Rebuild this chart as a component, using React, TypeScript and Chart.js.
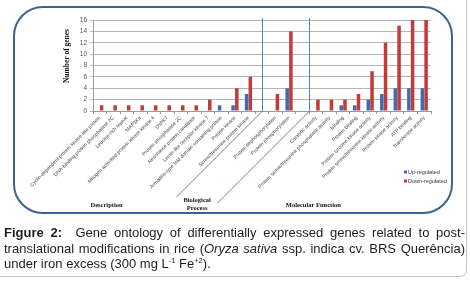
import React, { useEffect, useRef } from 'react';
import { Chart, registerables } from 'chart.js';

Chart.register(...registerables);

const categories: string[] = [
  'Cyclin-dependent protein kinase-like protein',
  'DNA-binding protein phosphatase 2C',
  'Leucine-rich repeat',
  'MAP3Ka',
  'Mitogen-activated protein kinase kinase 4',
  'OsPK7',
  'Protein phosphatase 2C',
  'Resistance protein candidate',
  'Lectin-like receptor kinase 7',
  'Armadillo-type fold domain containing protein',
  'Protein kinase',
  'Serine/threonine protein kinase',
  '',
  'Protein dephosphorylation',
  'Protein phosphorylation',
  '',
  'Catalytic activity',
  'Protein serine/threonine phosphatase activity',
  'Binding',
  'Protein binding',
  'Protein tyrosine kinase activity',
  'Protein serine/threonine kinase activity',
  'Protein kinase activity',
  'ATP binding',
  'Transferase activity',
];

const upRegulated: (number | null)[] = [
  null, null, null, null, null, null, null, null, null, 1, 1, 3,
  null, null, 4,
  null, null, null, 1, 1, 2, 3, 4, 4, 4,
];

const downRegulated: (number | null)[] = [
  1, 1, 1, 1, 1, 1, 1, 1, 2, null, 4, 6,
  null, 3, 14,
  null, 2, 2, 2, 3, 7, 12, 15, 16, 16,
];

const seriesNames = ['Up-regulated', 'Down-regulated'];
const yTicks = [0, 2, 4, 6, 8, 10, 12, 14, 16];
const yTitle = 'Number of genes';
const groupLabels: { lines: string[]; at: number }[] = [
  { lines: ['Description'], at: 0.5 },
  { lines: ['Biological', 'Process'], at: 7.2 },
  { lines: ['Molecular Function'], at: 15.8 },
];
const separatorsAt = [12, 15.5];

function roundRectPath(ctx: CanvasRenderingContext2D, x: number, y: number, w: number, h: number, r: number) {
  ctx.beginPath();
  ctx.moveTo(x + r, y);
  ctx.lineTo(x + w - r, y);
  ctx.arcTo(x + w, y, x + w, y + r, r);
  ctx.lineTo(x + w, y + h - r);
  ctx.arcTo(x + w, y + h, x + w - r, y + h, r);
  ctx.lineTo(x + r, y + h);
  ctx.arcTo(x, y + h, x, y + h - r, r);
  ctx.lineTo(x, y + r);
  ctx.arcTo(x, y, x + r, y, r);
  ctx.closePath();
}

const decorPlugin = {
  id: 'decor',
  beforeDraw(chart: any) {
    const ctx: CanvasRenderingContext2D = chart.ctx;
    ctx.save();
    ctx.fillStyle = '#ffffff';
    ctx.fillRect(0, 0, chart.width, chart.height);
    // outer light frame
    ctx.strokeStyle = '#c4c4c4';
    ctx.lineWidth = 1;
    roundRectPath(ctx, -10, -10, 476.5, 286.5, 6);
    ctx.stroke();
    // blue rounded frame around chart
    ctx.strokeStyle = '#3d6290';
    ctx.lineWidth = 2;
    roundRectPath(ctx, 14, 7, 438, 206, 29);
    ctx.stroke();
    ctx.restore();
  },
  afterDraw(chart: any) {
    const ctx: CanvasRenderingContext2D = chart.ctx;
    const xs = chart.scales.x;
    const area = chart.chartArea;
    ctx.save();
    // separators
    ctx.strokeStyle = '#5a83b8';
    ctx.lineWidth = 1;
    const drops = [86, 92];
    separatorsAt.forEach((v, i) => {
      const x = Math.round(xs.getPixelForValue(v)) + 0.5;
      ctx.beginPath();
      ctx.moveTo(x, area.top - 2);
      ctx.lineTo(x, area.bottom);
      ctx.lineTo(x - drops[i], area.bottom + drops[i]);
      ctx.stroke();
    });
    // group labels
    ctx.fillStyle = '#111';
    ctx.font = 'bold 6.5px "Liberation Serif", "DejaVu Serif", serif';
    ctx.textAlign = 'center';
    ctx.textBaseline = 'middle';
    groupLabels.forEach((g) => {
      const x = xs.getPixelForValue(g.at);
      const n = g.lines.length;
      g.lines.forEach((ln, j) => {
        const y = area.bottom + 94 + (j - (n - 1) / 2) * 8 - (n > 1 ? 1 : 0);
        ctx.fillText(ln, x, y);
      });
    });
    // y-axis title
    ctx.save();
    ctx.translate(area.left - 25.5, area.top + (area.bottom - area.top) * 0.396);
    ctx.rotate(-Math.PI / 2);
    ctx.font = 'bold 7.5px "Liberation Serif", "DejaVu Serif", serif';
    ctx.fillStyle = '#111';
    ctx.textAlign = 'center';
    ctx.textBaseline = 'middle';
    ctx.fillText(yTitle, 0, 0);
    ctx.restore();
    // legend
    ctx.font = '5.5px "Liberation Sans", Arial, sans-serif';
    ctx.textAlign = 'left';
    ctx.textBaseline = 'middle';
    chart.data.datasets.forEach((ds: any, i: number) => {
      const y = area.bottom + 61 + i * 9;
      const x = area.right - 27;
      ctx.fillStyle = ds.backgroundColor;
      ctx.fillRect(x, y - 1.5, 3, 3);
      ctx.fillStyle = '#333';
      ctx.fillText(ds.label, x + 4, y);
    });
    ctx.restore();
  },
};

export default function App() {
  const canvasRef = useRef<HTMLCanvasElement | null>(null);

  useEffect(() => {
    if (!canvasRef.current) return;
    const chart = new Chart(canvasRef.current, {
      type: 'bar',
      data: {
        labels: categories,
        datasets: [
          {
            label: seriesNames[0],
            data: upRegulated,
            backgroundColor: '#3c6cb2',
            categoryPercentage: 0.55,
            barPercentage: 0.95,
          },
          {
            label: seriesNames[1],
            data: downRegulated,
            backgroundColor: '#c23a3a',
            categoryPercentage: 0.55,
            barPercentage: 0.95,
          },
        ],
      },
      options: {
        responsive: false,
        animation: false,
        devicePixelRatio: 1,
        layout: { padding: { left: 60, right: 39, top: 20, bottom: 0 } },
        plugins: {
          legend: { display: false },
          tooltip: { enabled: false },
          title: { display: false },
        },
        scales: {
          x: {
            afterFit: (s: any) => {
              s.height = 171;
            },
            grid: {
              drawOnChartArea: false,
              drawTicks: true,
              tickLength: 3,
              color: '#9a9a9a',
            },
            border: { color: '#9a9a9a' },
            ticks: {
              autoSkip: false,
              maxRotation: 45,
              minRotation: 45,
              padding: 1,
              color: '#404040',
              font: { size: 5, family: '"Liberation Sans", Arial, sans-serif' },
            },
          },
          y: {
            min: 0,
            max: 16,
            afterFit: (s: any) => {
              s.width = 33;
            },
            afterBuildTicks: (s: any) => {
              s.ticks = yTicks.map((v) => ({ value: v }));
            },
            grid: { color: '#b5b5b5', tickLength: 3 },
            border: { color: '#9a9a9a' },
            ticks: {
              padding: 3,
              color: '#555',
              font: { size: 6.5, family: '"Liberation Sans", Arial, sans-serif' },
            },
          },
        },
      },
      plugins: [decorPlugin],
    });
    return () => chart.destroy();
  }, []);

  const supStyle: React.CSSProperties = { fontSize: '7.5px', position: 'relative', top: '-5px', lineHeight: 0 };

  return (
    <div style={{ position: 'fixed', left: 0, top: 0, width: 470, height: 282, background: '#fff', overflow: 'hidden' }}>
      <canvas ref={canvasRef} width={470} height={282} style={{ position: 'absolute', left: 0, top: 0, width: 470, height: 282, display: 'block' }} />
      <div
        style={{
          position: 'absolute',
          left: 4,
          top: 225,
          width: 461,
          fontFamily: '"Liberation Sans", Arial, sans-serif',
          fontSize: '13px',
          lineHeight: '15.5px',
          color: '#1e1e1e',
        }}
      >
        <div style={{ textAlign: 'justify', textAlignLast: 'justify', whiteSpace: 'nowrap' as any }}>
          <b>Figure 2:</b>&nbsp; Gene ontology of differentially expressed genes related to post-
        </div>
        <div style={{ textAlign: 'justify', textAlignLast: 'justify' }}>
          translational modifications in rice (<i>Oryza sativa</i> ssp. indica cv. BRS Querência)
        </div>
        <div>
          under iron excess (300 mg L<span style={supStyle}>-1</span> Fe<span style={supStyle}>+2</span>).
        </div>
      </div>
    </div>
  );
}
